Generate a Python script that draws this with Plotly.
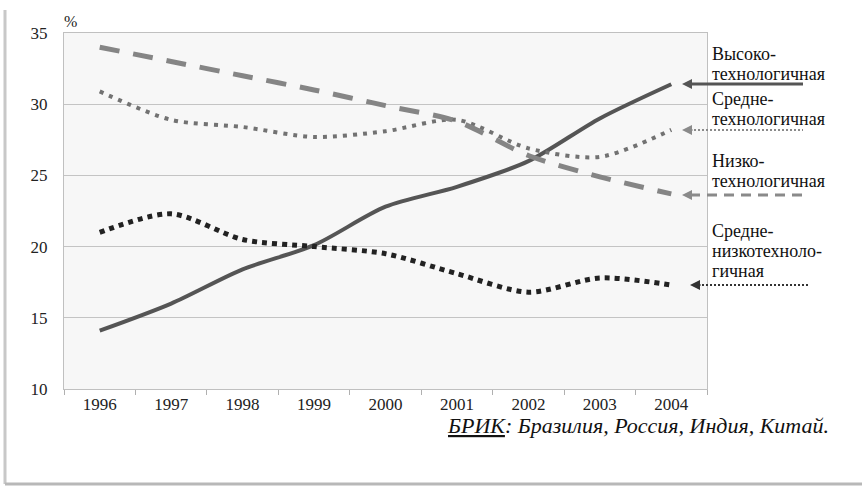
import plotly.graph_objects as go

years = ["1996", "1997", "1998", "1999", "2000", "2001", "2002", "2003", "2004"]
high_tech = [14.1, 16.0, 18.4, 20.1, 22.8, 24.2, 26.0, 29.0, 31.4]
medium_tech = [30.9, 28.9, 28.4, 27.7, 28.1, 28.9, 26.9, 26.3, 28.2]
low_tech = [34.0, 33.0, 32.0, 31.0, 29.9, 28.8, 26.4, 24.9, 23.7]
medium_low_tech = [21.0, 22.3, 20.5, 20.0, 19.5, 18.1, 16.8, 17.8, 17.3]

label_lines = [
    ["Высоко-", "технологичная"],
    ["Средне-", "технологичная"],
    ["Низко-", "технологичная"],
    ["Средне-", "низкотехноло-", "гичная"],
]
y_ticks = [10, 15, 20, 25, 30, 35]
caption = "<i><u>БРИК</u>: Бразилия, Россия, Индия, Китай.</i>"

W, H = 862, 487
L, R, T, B = 64, 707, 33, 389
FONT = "Liberation Serif"


def px(x):
    return (x - L) / (R - L)


def py(y):
    return (B - y) / (B - T)


styles = [
    dict(color="#555555", width=4, dash="solid"),
    dict(color="#727272", width=4, dash="4px,6px"),
    dict(color="#858585", width=5, dash="20px,14px"),
    dict(color="#222222", width=5, dash="5px,5px"),
]
series = [high_tech, medium_tech, low_tech, medium_low_tech]

fig = go.Figure()
for vals, st in zip(series, styles):
    fig.add_trace(go.Scatter(
        x=years, y=vals, mode="lines",
        line=dict(color=st["color"], width=st["width"], dash=st["dash"],
                  shape="spline", smoothing=0.8),
        showlegend=False, hoverinfo="skip",
    ))

shapes = []
annotations = []

# right-side arrows and labels
arrow_y = [84, 130, 195, 285]
arrow_head = [682, 682, 682, 690]
arrow_tail = [803, 803, 803, 810]
arrow_styles = [
    dict(color="#555555", width=3, dash="solid"),
    dict(color="#8a8a8a", width=2, dash="2px,2px"),
    dict(color="#8a8a8a", width=3, dash="10px,7px"),
    dict(color="#333333", width=2, dash="2px,2px"),
]
label_top = [54, 99, 161, 231]
line_step = 20
for i in range(4):
    shapes.append(dict(type="line", xref="paper", yref="paper",
                       x0=px(arrow_head[i] + 8), x1=px(arrow_tail[i]),
                       y0=py(arrow_y[i]), y1=py(arrow_y[i]),
                       line=arrow_styles[i]))
    annotations.append(dict(xref="paper", yref="paper",
                            x=px(arrow_head[i]), y=py(arrow_y[i]),
                            ax=12, ay=0, text="", showarrow=True,
                            arrowhead=2, arrowsize=1, arrowwidth=2,
                            arrowcolor=arrow_styles[i]["color"]))
    for j, line in enumerate(label_lines[i]):
        annotations.append(dict(xref="paper", yref="paper",
                                x=px(710), y=py(label_top[i] + j * line_step),
                                xanchor="left", yanchor="middle", align="left",
                                text=line, showarrow=False,
                                font=dict(family=FONT, size=18, color="#111111")))

# percent sign
annotations.append(dict(xref="paper", yref="paper", x=px(70), y=py(22),
                        text="%", showarrow=False, xanchor="center", yanchor="middle",
                        font=dict(family=FONT, size=16, color="#222222")))
# caption
annotations.append(dict(xref="paper", yref="paper", x=px(831), y=py(425),
                        text=caption, showarrow=False, xanchor="right", yanchor="middle",
                        font=dict(family=FONT, size=22, color="#111111")))

# outer frame (left and bottom edges)
shapes.append(dict(type="line", xref="paper", yref="paper",
                   x0=px(5), x1=px(5), y0=py(10), y1=py(484),
                   line=dict(color="#c8c8c8", width=3)))
shapes.append(dict(type="line", xref="paper", yref="paper",
                   x0=px(5), x1=px(870), y0=py(484), y1=py(484),
                   line=dict(color="#b8b8b8", width=3)))

fig.update_layout(
    width=W, height=H,
    margin=dict(l=L, r=W - R, t=T, b=H - B),
    paper_bgcolor="white",
    plot_bgcolor="#f7f7f7",
    font=dict(family=FONT, size=17, color="#222222"),
    shapes=shapes,
    annotations=annotations,
    xaxis=dict(
        type="category", range=[-0.5, 8.5],
        showgrid=False, tickson="boundaries",
        ticks="outside", ticklen=5, tickcolor="#b0b0b0",
        showline=True, linecolor="#c0c0c0", linewidth=1, mirror=True,
        tickfont=dict(family=FONT, size=17, color="#222222"),
        fixedrange=True,
    ),
    yaxis=dict(
        range=[10, 35], tickvals=y_ticks,
        showgrid=True, gridcolor="#c4c4c4", gridwidth=1,
        showline=True, linecolor="#c0c0c0", linewidth=1, mirror=True,
        zeroline=False, ticks="", ticklabelstandoff=12,
        tickfont=dict(family=FONT, size=17, color="#222222"),
        fixedrange=True,
    ),
)

fig.write_html("out.html", config={"displayModeBar": False},
               post_script="document.body.style.margin='0';document.body.style.overflow='hidden';")
